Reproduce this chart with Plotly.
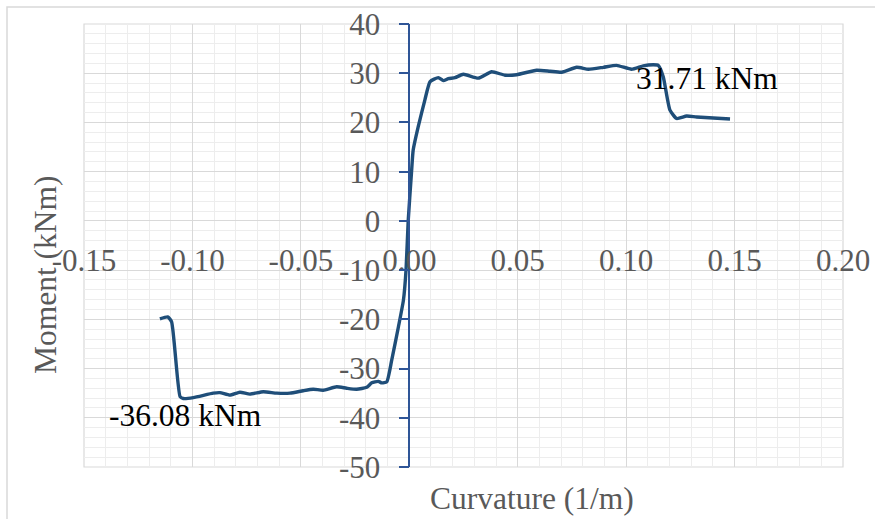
import plotly.graph_objects as go

# Data (path from left end to right end)
curvature = [-0.1150, -0.1114, -0.1096, -0.1057, -0.1042, -0.0996, -0.0904, -0.0873,
             -0.0827, -0.0781, -0.0735, -0.0673, -0.0611, -0.0550, -0.0489, -0.0443,
             -0.0397, -0.0335, -0.0289, -0.0243, -0.0196, -0.0173, -0.0143, -0.0127,
             -0.0104, -0.0081, -0.0050, -0.0027, -0.0015, -0.0005, 0.0010, 0.0018,
             0.0041, 0.0072, 0.0096, 0.0134, 0.0157, 0.0180, 0.0211, 0.0249,
             0.0318, 0.0380, 0.0441, 0.0495, 0.0587, 0.0649, 0.0703, 0.0772,
             0.0826, 0.0895, 0.0956, 0.1025, 0.1079, 0.1125, 0.1148, 0.1171,
             0.1202, 0.1233, 0.1279, 0.1325, 0.1402, 0.1479]
moment = [-19.9, -19.5, -20.5, -35.7, -36.08, -35.9, -35.0, -34.9,
          -35.4, -34.8, -35.2, -34.7, -35.0, -35.0, -34.5, -34.2,
          -34.4, -33.7, -34.0, -34.2, -33.8, -32.9, -32.6, -32.9,
          -32.7, -28.3, -21.5, -16.1, -10.0, 0.0, 9.7, 14.4,
          19.1, 24.6, 28.3, 29.1, 28.5, 28.9, 29.1, 29.8,
          29.0, 30.3, 29.6, 29.7, 30.6, 30.4, 30.2, 31.2,
          30.8, 31.2, 31.6, 30.8, 31.5, 31.71, 31.6, 29.3,
          22.5, 20.8, 21.3, 21.1, 20.9, 20.7]

x_ticks = [-0.15, -0.10, -0.05, 0.00, 0.05, 0.10, 0.15, 0.20]
y_ticks = [-50, -40, -30, -20, -10, 0, 10, 20, 30, 40]

max_label = "31.71 kNm"
min_label = "-36.08 kNm"

FONT = "Liberation Serif"
GRAY = "#595959"
BLUE = "#1F4E79"

fig = go.Figure()
fig.add_trace(go.Scatter(
    x=curvature, y=moment, mode="lines",
    line=dict(color=BLUE, width=3.4, shape="spline", smoothing=0.5),
    showlegend=False, hoverinfo="skip"))

fig.update_layout(
    width=875, height=519,
    margin=dict(l=84, r=32, t=24, b=52, autoexpand=False),
    paper_bgcolor="white", plot_bgcolor="white",
    font=dict(family=FONT, color=GRAY),
    xaxis=dict(
        range=[-0.15, 0.20], tickvals=x_ticks,
        ticktext=[f"{v:.2f}" for v in x_ticks],
        showgrid=True, gridcolor="#D9D9D9", gridwidth=1,
        minor=dict(dtick=0.01, showgrid=True, gridcolor="#EDEDED", gridwidth=1),
        zeroline=False, showline=False, automargin=False,
        anchor="free", position=50 / 90,
        ticks="outside", ticklen=12, tickcolor="rgba(0,0,0,0)",
        tickfont=dict(family=FONT, size=31, color=GRAY),
    ),
    yaxis=dict(
        range=[-50, 40], tickvals=y_ticks,
        ticktext=[str(v) for v in y_ticks],
        showgrid=True, gridcolor="#D9D9D9", gridwidth=1,
        minor=dict(dtick=2, showgrid=True, gridcolor="#EDEDED", gridwidth=1),
        zeroline=False, showline=True, linecolor="#2F5597", linewidth=1.5,
        automargin=False,
        anchor="free", position=0.15 / 0.35,
        ticks="outside", ticklen=10, tickcolor="#2F5597", tickwidth=1.5,
        ticklabelstandoff=12,
        tickfont=dict(family=FONT, size=31, color=GRAY),
    ),
    annotations=[
        dict(x=0.1373, y=29.0, xref="x", yref="y", text=max_label, showarrow=False,
             font=dict(family=FONT, size=31.5, color="black"),
             xanchor="center", yanchor="middle"),
        dict(x=-0.1031, y=-39.6, xref="x", yref="y", text=min_label, showarrow=False,
             font=dict(family=FONT, size=31.5, color="black"),
             xanchor="center", yanchor="middle"),
        dict(x=(532 - 84) / 759, y=(467 - 498) / 443, xref="paper", yref="paper",
             text="Curvature (1/m)", showarrow=False,
             font=dict(family=FONT, size=31.5, color=GRAY),
             xanchor="center", yanchor="middle"),
        dict(x=(45 - 84) / 759, y=(467 - 275) / 443, xref="paper", yref="paper",
             text="Moment (kNm)", showarrow=False, textangle=-90,
             font=dict(family=FONT, size=31.5, color=GRAY),
             xanchor="center", yanchor="middle"),
    ],
    shapes=[
        dict(type="rect", xref="paper", yref="paper",
             x0=(7 - 84) / 759, x1=1.3, y0=-0.3, y1=(467 - 7) / 443,
             line=dict(color="#D9D9D9", width=1.5), fillcolor="rgba(0,0,0,0)",
             layer="below"),
        dict(type="rect", xref="x domain", yref="y domain",
             x0=0, x1=1, y0=0, y1=1,
             line=dict(color="#D9D9D9", width=1.2), fillcolor="rgba(0,0,0,0)",
             layer="below"),
    ],
)

fig.write_html("out.html", config={"displayModeBar": False},
               post_script="document.body.style.margin='0';document.body.style.padding='0';")
